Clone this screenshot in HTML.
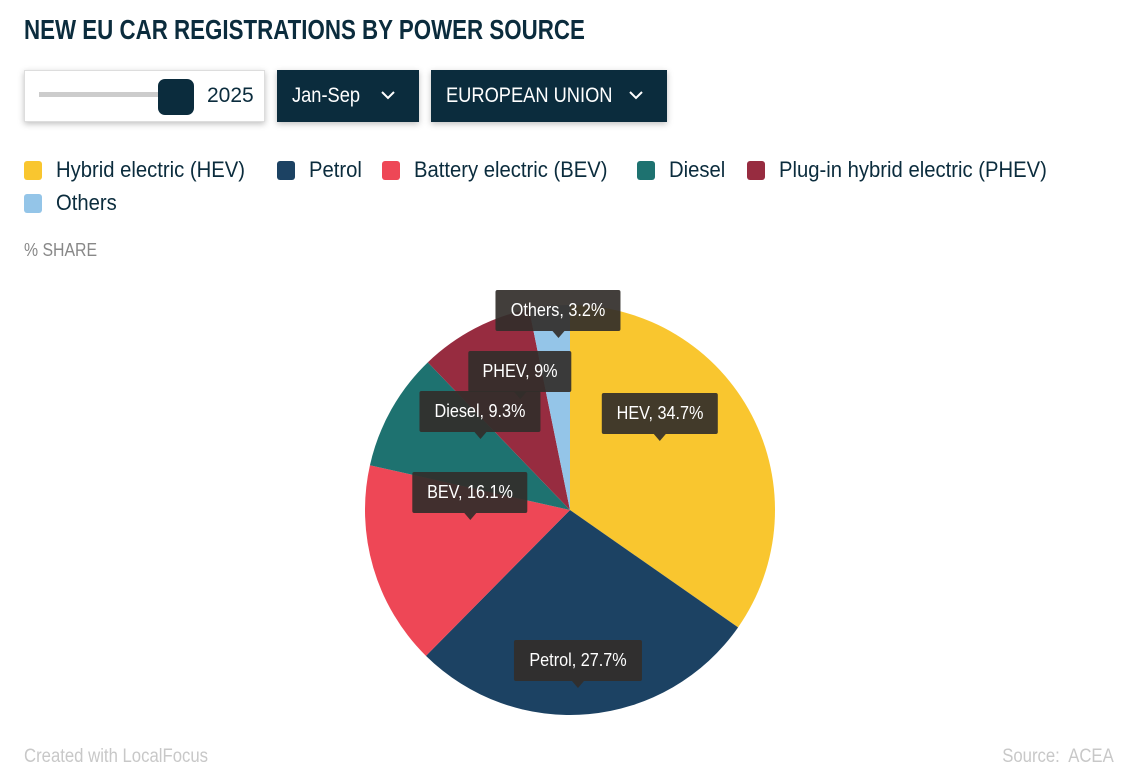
<!DOCTYPE html>
<html><head><meta charset="utf-8">
<style>
body{margin:0;width:1138px;height:784px;background:#fff;font-family:"Liberation Sans Narrow","Liberation Sans",sans-serif;color:#0b2c3d;position:relative;overflow:hidden}
.t{position:absolute;white-space:nowrap}
#title{left:24px;top:14px;font-size:28px;font-weight:bold;transform:scaleX(0.797);transform-origin:left top}
.ctrl{position:absolute;top:70px;height:52px;box-shadow:0 2px 6px rgba(0,0,0,.25)}
#slider{left:24px;width:241px;background:#fff;border:1px solid #ddd;box-sizing:border-box}
.dd{background:#0b2c3d;color:#fff;font-size:21px;line-height:52px;box-sizing:border-box;padding-left:15px;white-space:nowrap}
.dd span{display:inline-block;transform:scaleX(0.87);transform-origin:left center}
.dd svg{position:absolute;top:20px}
.leg{position:absolute;font-size:22.5px;display:flex;align-items:center;white-space:nowrap}
.leg b{font-weight:normal;display:inline-block;transform:scaleX(0.9);transform-origin:left center}
.sw{width:18px;height:19px;border-radius:3px;margin-right:14px}
#foot{position:absolute;top:746px;font-size:19px;color:#c8c8c8}
</style></head><body>
<div class="t" id="title">NEW EU CAR REGISTRATIONS BY POWER SOURCE</div>
<div class="ctrl" id="slider">
 <div style="position:absolute;left:14px;top:21px;width:140px;height:5px;background:#ccc"></div>
 <div style="position:absolute;left:133px;top:8px;width:36px;height:36px;border-radius:7px;background:#0b2c3d"></div>
 <div class="t" style="left:182px;top:13px;font-size:21px">2025</div>
</div>
<div class="ctrl dd" style="left:277px;width:142px"><span>Jan-Sep</span><svg style="left:104px" width="14" height="10"><path d="M1 2 L7 8 L13 2" fill="none" stroke="#fff" stroke-width="2"/></svg></div>
<div class="ctrl dd" style="left:431px;width:236px"><span>EUROPEAN UNION</span><svg style="left:198px" width="14" height="10"><path d="M1 2 L7 8 L13 2" fill="none" stroke="#fff" stroke-width="2"/></svg></div>
<div id="legend"></div>
<div class="t" style="left:24px;top:240px;font-size:18px;color:#888;transform:scaleX(0.88);transform-origin:left top">% SHARE</div>
<svg id="pie" width="1138" height="784" style="position:absolute;left:0;top:0"></svg>
<div id="foot" style="left:24px;transform:scaleX(0.88);transform-origin:left top">Created with LocalFocus</div>
<div id="foot2" class="t" style="right:24px;top:746px;font-size:19px;color:#c8c8c8;transform:scaleX(0.88);transform-origin:right top">Source:&nbsp; ACEA</div>
<script>
const categories=["Hybrid electric (HEV)","Petrol","Battery electric (BEV)","Diesel","Plug-in hybrid electric (PHEV)","Others"];
const shortNames=["HEV","Petrol","BEV","Diesel","PHEV","Others"];
const values=[34.7,27.7,16.1,9.3,9,3.2];
const colors=["#f9c62f","#1c4263","#ee4756","#1e7270","#972c40","#94c5e8"];
const legendPos=[[24,157],[277,157],[382,157],[637,157],[747,157],[24,190]];
const labelPos=[[660,393],[578,640],[470,472],[480,391],[520,351],[558,290]];
const cx=570,cy=510,R=205;
const svg=document.getElementById('pie');
const NS="http://www.w3.org/2000/svg";
const total=values.reduce((a,b)=>a+b,0);
function pt(a,r){return [cx+r*Math.sin(a),cy-r*Math.cos(a)];}
let acc=0;
values.forEach((v,i)=>{
  const a0=acc/total*2*Math.PI;acc+=v;const a1=acc/total*2*Math.PI;
  const p0=pt(a0,R),p1=pt(a1,R);
  const p=document.createElementNS(NS,'path');
  p.setAttribute('d',`M${cx},${cy}L${p0[0]},${p0[1]}A${R},${R} 0 ${a1-a0>Math.PI?1:0} 1 ${p1[0]},${p1[1]}Z`);
  p.setAttribute('fill',colors[i]);
  
  
  svg.appendChild(p);
});
values.forEach((v,i)=>{
  const d=document.createElement('div');
  d.className='t';
  d.style.cssText=`left:${labelPos[i][0]}px;top:${labelPos[i][1]}px;transform:translateX(-50%);background:rgba(50,46,42,.92);color:#fff;font-size:18px;padding:0 10px;height:41px;line-height:41px;border-radius:2px`;
  
  
  const s=document.createElement('span');
  s.textContent=shortNames[i]+', '+v+'%';
  s.style.cssText='display:inline-block;transform:scaleX(0.9)';
  d.appendChild(s);
  const ar=document.createElement('div');
  ar.style.cssText='position:absolute;left:50%;bottom:-7px;margin-left:-6px;border-left:6px solid transparent;border-right:6px solid transparent;border-top:7px solid rgba(50,46,42,.92)';
  d.appendChild(ar);
  document.body.appendChild(d);
});
const lg=document.getElementById('legend');
categories.forEach((c,i)=>{
  const e=document.createElement('div');
  e.className='leg';
  e.style.left=legendPos[i][0]+'px';e.style.top=legendPos[i][1]+'px';
  e.innerHTML=`<span class="sw" style="background:${colors[i]}"></span><b>${c}</b>`;
  
  
  lg.appendChild(e);
});
</script>
</body></html>
